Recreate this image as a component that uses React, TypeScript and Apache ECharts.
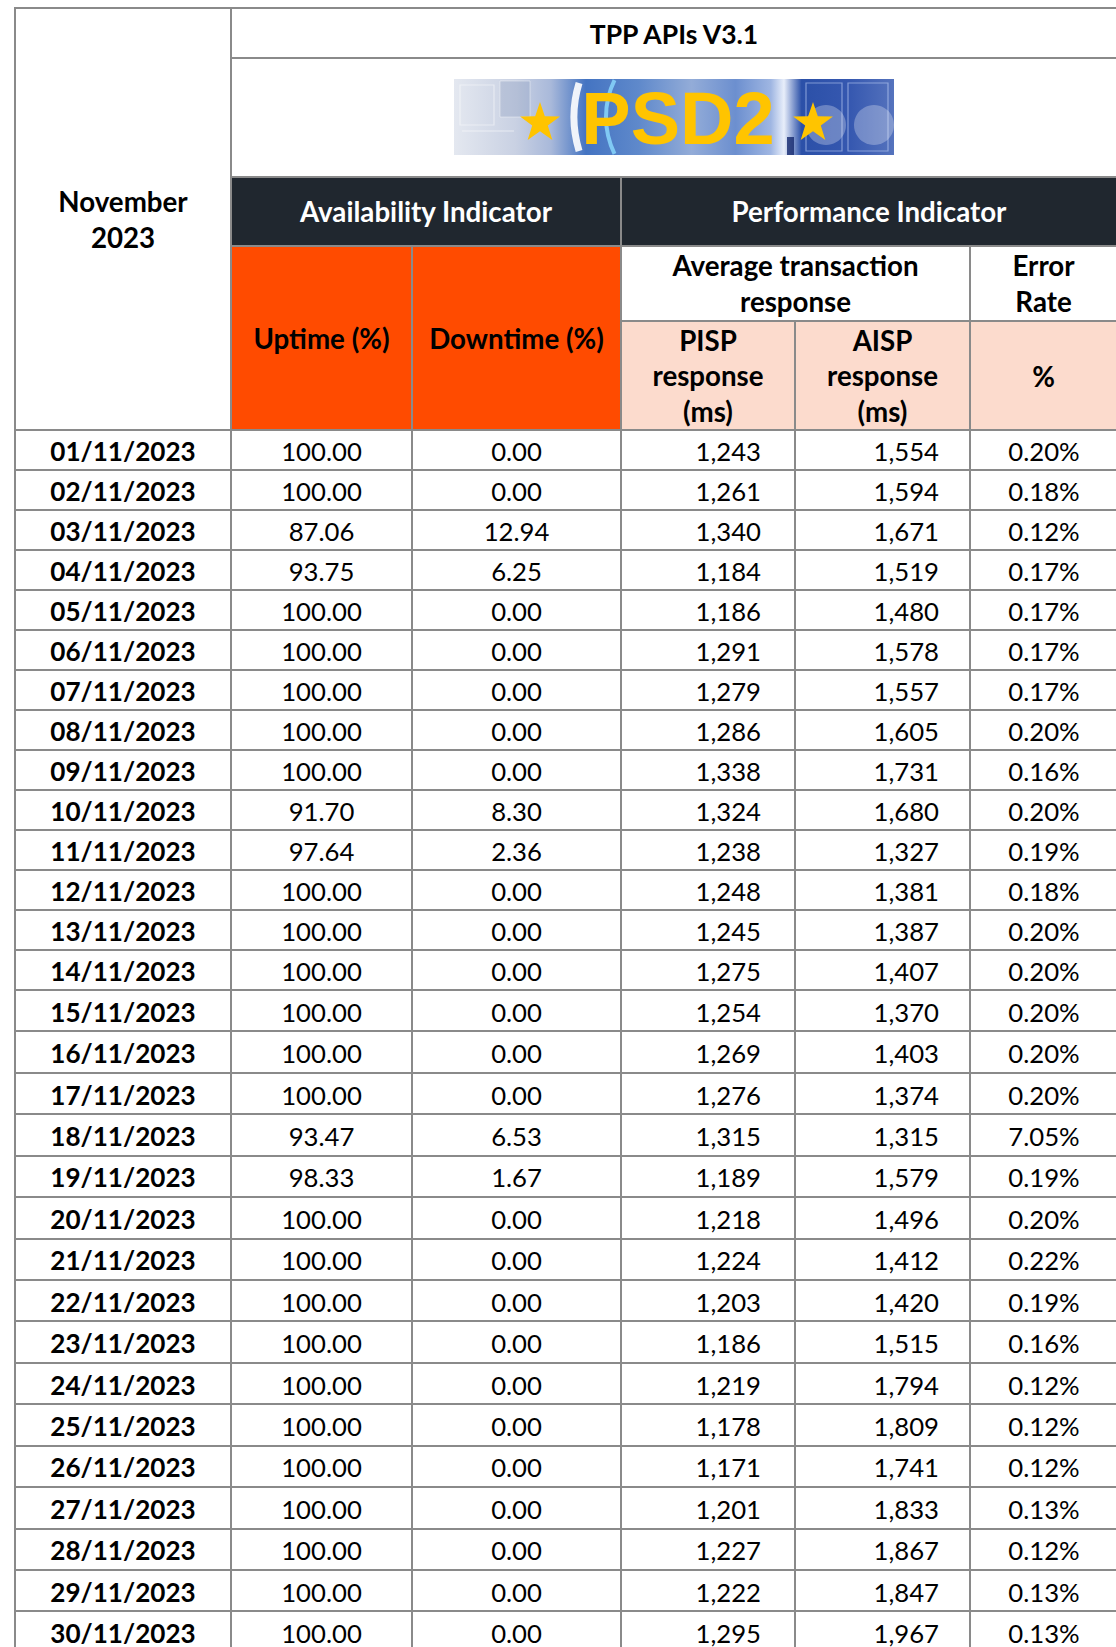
import React, { useEffect, useRef } from "react";
import * as echarts from "echarts";

// ---------- data ----------
const dates = [
  "01/11/2023", "02/11/2023", "03/11/2023", "04/11/2023", "05/11/2023",
  "06/11/2023", "07/11/2023", "08/11/2023", "09/11/2023", "10/11/2023",
  "11/11/2023", "12/11/2023", "13/11/2023", "14/11/2023", "15/11/2023",
  "16/11/2023", "17/11/2023", "18/11/2023", "19/11/2023", "20/11/2023",
  "21/11/2023", "22/11/2023", "23/11/2023", "24/11/2023", "25/11/2023",
  "26/11/2023", "27/11/2023", "28/11/2023", "29/11/2023", "30/11/2023",
];
const uptime = [
  100.0, 100.0, 87.06, 93.75, 100.0, 100.0, 100.0, 100.0, 100.0, 91.7,
  97.64, 100.0, 100.0, 100.0, 100.0, 100.0, 100.0, 93.47, 98.33, 100.0,
  100.0, 100.0, 100.0, 100.0, 100.0, 100.0, 100.0, 100.0, 100.0, 100.0,
];
const downtime = [
  0.0, 0.0, 12.94, 6.25, 0.0, 0.0, 0.0, 0.0, 0.0, 8.3,
  2.36, 0.0, 0.0, 0.0, 0.0, 0.0, 0.0, 6.53, 1.67, 0.0,
  0.0, 0.0, 0.0, 0.0, 0.0, 0.0, 0.0, 0.0, 0.0, 0.0,
];
const pispMs = [
  1243, 1261, 1340, 1184, 1186, 1291, 1279, 1286, 1338, 1324,
  1238, 1248, 1245, 1275, 1254, 1269, 1276, 1315, 1189, 1218,
  1224, 1203, 1186, 1219, 1178, 1171, 1201, 1227, 1222, 1295,
];
const aispMs = [
  1554, 1594, 1671, 1519, 1480, 1578, 1557, 1605, 1731, 1680,
  1327, 1381, 1387, 1407, 1370, 1403, 1374, 1315, 1579, 1496,
  1412, 1420, 1515, 1794, 1809, 1741, 1833, 1867, 1847, 1967,
];
const errorRate = [
  0.2, 0.18, 0.12, 0.17, 0.17, 0.17, 0.17, 0.2, 0.16, 0.2,
  0.19, 0.18, 0.2, 0.2, 0.2, 0.2, 0.2, 7.05, 0.19, 0.2,
  0.22, 0.19, 0.16, 0.12, 0.12, 0.12, 0.13, 0.12, 0.13, 0.13,
];

const titleText = "TPP APIs V3.1";
const monthLines = ["November", "2023"];
const groupHeaders = ["Availability Indicator", "Performance Indicator"];
const availHeaders = ["Uptime (%)", "Downtime (%)"];
const avgRespLines = ["Average transaction", "response"];
const errorRateLines = ["Error", "Rate"];
const pispLines = ["PISP", "response", "(ms)"];
const aispLines = ["AISP", "response", "(ms)"];
const pctHeader = "%";
const logoText = "PSD2";

// ---------- layout ----------
const W = 1116;
const H = 1647;
const XL = 15, X1 = 231, X2 = 412, X3 = 621, X4 = 795, X5 = 970, XR = 1117;
const YT = 8, Y1 = 58, Y2 = 177, Y3 = 246, Y4 = 321, Y5 = 430;
const LINE = "#8a8a8a";
const DARK = "#20272f";
const ORANGE = "#ff4b00";
const PINK = "#fcdbcd";
const FONT = "Lato";
const HEAD = 27.7;
const DATA = 25.7;

function rowTop(i: number) {
  return i < 14 ? Y5 + 40 * i : 990 + 41.43 * (i - 14);
}
function rowH(i: number) {
  return i < 14 ? 40 : 41.43;
}
function fmtComma(v: number) {
  return v.toLocaleString("en-US");
}

function starPoints(cx: number, cy: number, R: number, r: number) {
  const pts: number[][] = [];
  for (let k = 0; k < 10; k++) {
    const a = -Math.PI / 2 + (k * Math.PI) / 5;
    const rad = k % 2 === 0 ? R : r;
    pts.push([cx + rad * Math.cos(a), cy + rad * Math.sin(a)]);
  }
  return pts;
}

function txt(
  text: string, x: number, y: number,
  opts: { size?: number; bold?: boolean; fill?: string; align?: string; family?: string } = {}
) {
  const align = opts.align || "center";
  return {
    type: "text",
    x, y, z: 20,
    style: {
      text,
      fontSize: opts.size || DATA,
      fontWeight: opts.bold ? "bold" : "normal",
      fontFamily: opts.family || FONT,
      fill: opts.fill || "#000",
      align, textAlign: align,
      verticalAlign: "middle", textVerticalAlign: "middle",
    },
  };
}
function hline(x1: number, x2: number, y: number) {
  return { type: "line", z: 15, shape: { x1, y1: y, x2, y2: y }, style: { stroke: LINE, lineWidth: 2 } };
}
function vline(x: number, y1: number, y2: number) {
  return { type: "line", z: 15, shape: { x1: x, y1, x2: x, y2 }, style: { stroke: LINE, lineWidth: 2 } };
}
function fillRect(x1: number, y1: number, x2: number, y2: number, fill: string) {
  return { type: "rect", z: 1, shape: { x: x1, y: y1, width: x2 - x1, height: y2 - y1 }, style: { fill } };
}

function buildLogo() {
  const lx = 454, ly = 79, lw = 440, lh = 76;
  const els: any[] = [];
  els.push({
    type: "rect", z: 3,
    shape: { x: lx, y: ly, width: lw, height: lh },
    style: {
      fill: new echarts.graphic.LinearGradient(0, 0, 1, 0, [
        { offset: 0, color: "#e4e8f0" },
        { offset: 0.14, color: "#c9d1e3" },
        { offset: 0.22, color: "#a9b9da" },
        { offset: 0.3, color: "#4474c2" },
        { offset: 0.42, color: "#5f89cb" },
        { offset: 0.54, color: "#93acd8" },
        { offset: 0.64, color: "#6c8fcf" },
        { offset: 0.72, color: "#9fb6e2" },
        { offset: 0.75, color: "#e8eefa" },
        { offset: 0.79, color: "#2b50a8" },
        { offset: 0.9, color: "#3658b0" },
        { offset: 1, color: "#5573bd" },
      ]),
    },
  });
  // left frames (soft)
  els.push({ type: "rect", z: 4, shape: { x: lx + 6, y: ly + 6, width: 34, height: 40 }, style: { fill: "none", stroke: "rgba(255,255,255,0.45)", lineWidth: 1.2 } });
  els.push({ type: "rect", z: 4, shape: { x: lx + 46, y: ly + 2, width: 30, height: 36 }, style: { fill: "rgba(120,140,180,0.25)", stroke: "rgba(255,255,255,0.4)", lineWidth: 1 } });
  els.push({ type: "line", z: 4, shape: { x1: lx + 8, y1: ly + 52, x2: lx + 60, y2: ly + 52 }, style: { stroke: "rgba(255,255,255,0.55)", lineWidth: 1.2 } });
  // glowing arcs
  els.push({ type: "arc", z: 4, shape: { cx: lx + 236, cy: ly + 38, r: 116, startAngle: (163 * Math.PI) / 180, endAngle: (197 * Math.PI) / 180, clockwise: true }, style: { stroke: "rgba(255,255,255,0.9)", lineWidth: 7, fill: "none" } });
  els.push({ type: "arc", z: 4, shape: { cx: lx + 236, cy: ly + 38, r: 84, startAngle: (154 * Math.PI) / 180, endAngle: (206 * Math.PI) / 180, clockwise: true }, style: { stroke: "rgba(140,220,255,0.8)", lineWidth: 4, fill: "none" } });
  els.push({ type: "arc", z: 4, shape: { cx: lx + 236, cy: ly + 38, r: 60, startAngle: (220 * Math.PI) / 180, endAngle: (320 * Math.PI) / 180, clockwise: true }, style: { stroke: "rgba(255,255,255,0.35)", lineWidth: 2, fill: "none" } });
  // right glow + squares + circles
  els.push({ type: "rect", z: 4, shape: { x: lx + 352, y: ly + 4, width: 36, height: 68 }, style: { fill: "none", stroke: "rgba(210,225,255,0.5)", lineWidth: 1.2 } });
  els.push({ type: "rect", z: 4, shape: { x: lx + 394, y: ly + 4, width: 40, height: 68 }, style: { fill: "none", stroke: "rgba(210,225,255,0.5)", lineWidth: 1.2 } });
  els.push({ type: "circle", z: 4, shape: { cx: lx + 372, cy: ly + 46, r: 20 }, style: { fill: "rgba(255,255,255,0.28)" } });
  els.push({ type: "circle", z: 4, shape: { cx: lx + 420, cy: ly + 46, r: 20 }, style: { fill: "rgba(255,255,255,0.28)" } });
  els.push({ type: "rect", z: 4, shape: { x: lx + 333, y: ly + 58, width: 7, height: 18 }, style: { fill: "rgba(20,40,110,0.8)" } });
  // stars
  els.push({ type: "polygon", z: 6, shape: { points: starPoints(540, 123, 21, 8.2) }, style: { fill: "#ffc400" } });
  els.push({ type: "polygon", z: 6, shape: { points: starPoints(813, 123, 21, 8.2) }, style: { fill: "#ffc400" } });
  // text
  els.push({
    type: "text", z: 6, x: 678, y: 118,
    style: {
      text: logoText, fontSize: 74, fontWeight: "bold", fontFamily: "Liberation Sans",
      fill: "#ffc400", align: "center", textAlign: "center", verticalAlign: "middle", textVerticalAlign: "middle",
    },
  });
  return els;
}

export default function App() {
  const ref = useRef<HTMLDivElement>(null);
  useEffect(() => {
    if (!ref.current) return;
    const chart = echarts.init(ref.current, null, { renderer: "svg" });
    const els: any[] = [];

    // background fills
    els.push(fillRect(0, 0, W, H, "#ffffff"));
    els.push(fillRect(X1, Y2, XR, Y3, DARK));
    els.push(fillRect(X1, Y3, X3, Y5, ORANGE));
    els.push(fillRect(X3, Y4, XR, Y5, PINK));

    // logo
    els.push(...buildLogo());

    // header grid lines
    els.push(hline(XL - 1, W, YT));
    els.push(hline(X1, W, Y1));
    els.push(hline(X1, W, Y2));
    els.push(hline(X1, W, Y3));
    els.push(hline(X3, W, Y4));
    els.push(hline(XL - 1, W, Y5));
    els.push(vline(XL, YT, H));
    els.push(vline(X1, YT, H));
    els.push(vline(X2, Y3, H));
    els.push(vline(X3, Y2, H));
    els.push(vline(X4, Y4, H));
    els.push(vline(X5, Y3, H));

    // header texts
    els.push(txt(titleText, (X1 + XR) / 2, 33.5, { bold: true, size: 26.5 }));
    els.push(txt(monthLines[0], (XL + X1) / 2, 201, { bold: true, size: HEAD }));
    els.push(txt(monthLines[1], (XL + X1) / 2, 237, { bold: true, size: HEAD }));
    els.push(txt(groupHeaders[0], (X1 + X3) / 2, 211, { bold: true, size: HEAD, fill: "#ffffff" }));
    els.push(txt(groupHeaders[1], (X3 + XR) / 2, 211, { bold: true, size: HEAD, fill: "#ffffff" }));
    els.push(txt(availHeaders[0], (X1 + X2) / 2, 338, { bold: true, size: HEAD }));
    els.push(txt(availHeaders[1], (X2 + X3) / 2, 338, { bold: true, size: HEAD }));
    avgRespLines.forEach((t, k) => els.push(txt(t, (X3 + X5) / 2, 265.5 + 35.5 * k, { bold: true, size: HEAD })));
    errorRateLines.forEach((t, k) => els.push(txt(t, (X5 + XR) / 2, 265.5 + 35.5 * k, { bold: true, size: HEAD })));
    pispLines.forEach((t, k) => els.push(txt(t, (X3 + X4) / 2, 340 + 35.5 * k, { bold: true, size: HEAD })));
    aispLines.forEach((t, k) => els.push(txt(t, (X4 + X5) / 2, 340 + 35.5 * k, { bold: true, size: HEAD })));
    els.push(txt(pctHeader, (X5 + XR) / 2, 376, { bold: true, size: HEAD }));

    // data rows
    dates.forEach((d, i) => {
      const top = rowTop(i);
      const cy = top + rowH(i) / 2 + 1;
      if (i > 0) els.push(hline(XL - 1, W, Math.round(top)));
      els.push(txt(d, (XL + X1) / 2, cy, { bold: true, size: 26.1 }));
      els.push(txt(uptime[i].toFixed(2), (X1 + X2) / 2, cy));
      els.push(txt(downtime[i].toFixed(2), (X2 + X3) / 2, cy));
      els.push(txt(fmtComma(pispMs[i]), 761, cy, { align: "right" }));
      els.push(txt(fmtComma(aispMs[i]), 939, cy, { align: "right" }));
      els.push(txt(errorRate[i].toFixed(2) + "%", (X5 + XR) / 2 + 0.5, cy));
    });

    chart.setOption({ animation: false, graphic: { elements: els } });
    return () => chart.dispose();
  }, []);
  return (
    <div
      ref={ref}
      style={{ position: "absolute", left: 0, top: 0, width: W, height: H, background: "#fff" }}
    />
  );
}
